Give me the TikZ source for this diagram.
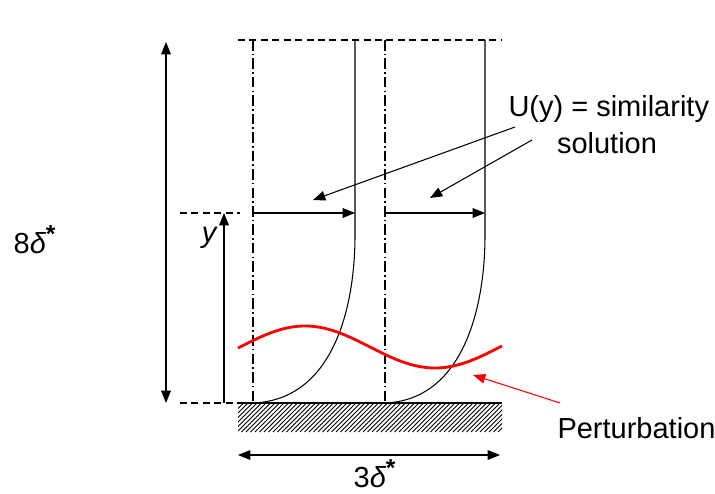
\documentclass[tikz,border=0pt]{standalone}
\usepackage{fontspec}
\setmainfont{Liberation Sans}
\usetikzlibrary{positioning,arrows.meta}

\tikzset{
  lbl/.style={font=\fontsize{16.5}{19.8}\selectfont,inner sep=0pt},
  dashdot/.style={dash pattern=on 6pt off 1.8pt on 0.9pt off 1.8pt},
  guide/.style={dash pattern=on 4pt off 2.5pt},
}
\newcommand{\dstar}{\textsuperscript{\fontsize{14}{14}\selectfont\textbf{*}}}

\begin{document}
\begin{tikzpicture}[x=0.02cm,y=-0.02cm,line width=0.6pt,>={Triangle[length=7pt,width=5.5pt]}]
\useasboundingbox (0,0) rectangle (715,493);
% key points
\coordinate (wl) at (238,403); \coordinate (wr) at (502,403);
\coordinate (tl) at (238,40); \coordinate (tr) at (502,40);
\coordinate (a1) at (253,40); \coordinate (b1) at (253,403);
\coordinate (a2) at (385,40); \coordinate (b2) at (385,403);
\coordinate (u1) at (355,40); \coordinate (e1) at (355,235);
\coordinate (u2) at (485,40); \coordinate (e2) at (485,235);
\coordinate (h1) at (180,213); \coordinate (h2) at (240,213);
\coordinate (g1) at (180,403);
\coordinate (ytop) at (224,213); \coordinate (ybot) at (224,403);
\coordinate (Ltop) at (166,42); \coordinate (Lbot) at (166,403);
\coordinate (v1) at (253,213); \coordinate (w1) at (355,213);
\coordinate (v2) at (385,213); \coordinate (w2) at (485,213);
\coordinate (Bl) at (238,455); \coordinate (Br) at (500,455);
% wall
\begin{scope}
\clip (238,404) rectangle (502,432);
\foreach \x in {210,214.5,...,520} \draw[line width=0.5pt] (\x,432) -- (\x+29,403);
\end{scope}
\draw[line width=1.4pt] (wl) -- (wr);
% frame
\draw[guide] (tl) -- (tr);
\draw[guide] (h1) -- (h2);
\draw[guide] (g1) -- (wl);
\draw[dashdot] (a1) -- (b1);
\draw[dashdot] (a2) -- (b2);
% profiles
\draw (u1) -- (e1) .. controls (355,310) and (332,400) .. (b1);
\draw (u2) -- (e2) .. controls (485,310) and (462,400) .. (b2);
\draw[->] (v1) -- (w1);
\draw[->] (v2) -- (w2);
% dimensions
\draw[<->] (Ltop) -- (Lbot);
\draw[->] (ybot) -- (ytop);
\draw[<->] (Bl) -- (Br);
% perturbation
\draw[red,line width=1.6pt] plot[domain=238:502,samples=80] (\x,{347-21*sin(1.3846*(\x-240))});
% labels
\node[lbl] (L8) at (35,240) {8{\itshape δ}\dstar};
\node[lbl] (L3) at (375,474) {3{\itshape δ}\dstar};
\node[lbl] (ly) at (209,238) {\itshape y};
\node[lbl,anchor=west] (sim) at (508,109) {U(y) = similarity};
\node[lbl] (sol) at (607,143) {solution};
\node[lbl,anchor=west] (pert) at (557,428) {Perturbation};
\coordinate (s1) at (515,127); \coordinate (t1) at (313,200);
\coordinate (s2) at (532,140); \coordinate (t2) at (430,198);
\coordinate (s3) at (560,403); \coordinate (t3) at (473,375);
\draw[->] (s1) -- (t1);
\draw[->] (s2) -- (t2);
\draw[->,red] (s3) -- (t3);
\end{tikzpicture}
\end{document}
